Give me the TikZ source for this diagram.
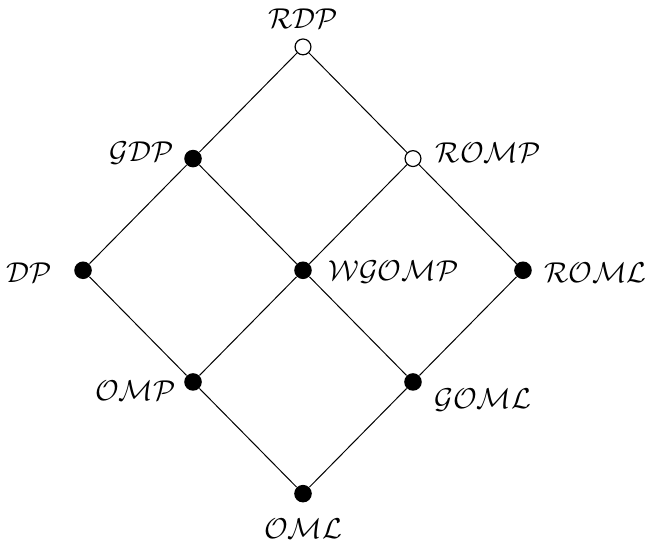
\documentclass[tikz,border=0pt]{standalone}
\usepackage{amsmath}
\usepackage{tikz}
\usetikzlibrary{positioning}

\begin{document}
\begin{tikzpicture}[x=1.94cm, y=1.97cm,
  full/.style={circle, inner sep=0pt, minimum size=3.1mm, fill=black},
  hollow/.style={circle, inner sep=0pt, minimum size=2.8mm, draw, line width=0.6pt, fill=white},
  lbl/.style={font=\fontsize{13.3}{16}\selectfont, inner sep=1pt}]
  \useasboundingbox (-2.755,-0.455) rectangle (3.164,4.42);
  \node[full] (OML) at (0,0) {};  % bottom
  \node[full] (OMP) at (-1,1) {};
  \node[full] (GOML) at (1,1) {};
  \node[full] (DP) at (-2,2) {};  % middle row
  \node[full] (WGOMP) at (0,2) {};
  \node[full] (ROML) at (2,2) {};
  \node[full] (GDP) at (-1,3) {};
  \node[hollow] (ROMP) at (1,3) {};
  \node[hollow] (RDP) at (0,4) {};  % top
  \node[lbl, above=4pt of RDP] (RDP-label) {$\mathcal{RDP}$};
  \node[lbl, left=4pt of GDP, yshift=3pt] (GDP-label) {$\mathcal{GDP}$};
  \node[lbl, right=6pt of ROMP, yshift=3pt] (ROMP-label) {$\mathcal{ROMP}$};
  \node[lbl, left=10pt of DP, yshift=-1pt] (DP-label) {$\mathcal{DP}$};
  \node[lbl, right=7pt of WGOMP, yshift=-1pt] (WGOMP-label) {$\mathcal{WGOMP}$};
  \node[lbl, right=5pt of ROML, yshift=-1pt] (ROML-label) {$\mathcal{ROML}$};
  \node[lbl, left=3pt of OMP, yshift=-4.5pt] (OMP-label) {$\mathcal{OMP}$};
  \node[lbl, right=5pt of GOML, yshift=-9pt] (GOML-label) {$\mathcal{GOML}$};
  \node[lbl, below=7pt of OML] (OML-label) {$\mathcal{OML}$};
  \draw[line width=0.5pt] (RDP) -- (GDP) (RDP) -- (ROMP);  % Connect elements
  \draw[line width=0.5pt] (GDP) -- (DP) (GDP) -- (WGOMP);
  \draw[line width=0.5pt] (ROMP) -- (WGOMP) (ROMP) -- (ROML);
  \draw[line width=0.5pt] (DP) -- (OMP) (WGOMP) -- (OMP);
  \draw[line width=0.5pt] (WGOMP) -- (GOML) (ROML) -- (GOML);
  \draw[line width=0.5pt] (OMP) -- (OML) (GOML) -- (OML);
\end{tikzpicture}
\end{document}
